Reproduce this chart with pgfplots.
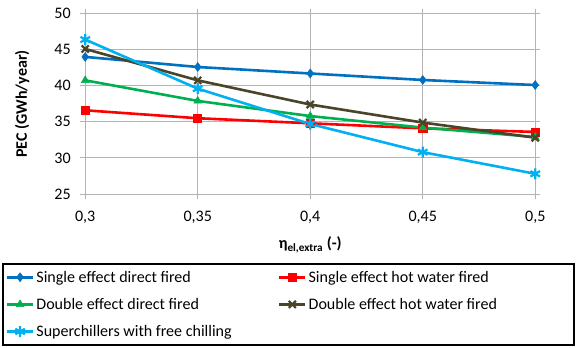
\documentclass[border=0pt]{standalone}
\usepackage{fontspec}
\setmainfont{Carlito}
\usepackage{pgfplots}
\pgfplotsset{compat=1.18}
\definecolor{cblue}{HTML}{0070C0}
\definecolor{cred}{HTML}{FF0000}
\definecolor{cgreen}{HTML}{00B050}
\definecolor{cbrown}{HTML}{4A452A}
\definecolor{ccyan}{HTML}{00B0F0}
\definecolor{gridc}{HTML}{B3B3B3}
\begin{document}
\begin{tikzpicture}
\begin{axis}[
  scale only axis,
  width=449bp, height=180bp,
  xmin=0.3, xmax=0.5, ymin=25, ymax=50,
  xtick={0.3,0.35,0.4,0.45,0.5},
  xticklabels={{0,3},{0,35},{0,4},{0,45},{0,5}},
  ytick={25,30,35,40,45,50},
  /pgf/number format/assume math mode=true,
  font=\fontsize{16bp}{19bp}\selectfont,
  tick label style={font=\fontsize{16bp}{19bp}\selectfont},
  xticklabel shift=9bp,
  yticklabel shift=6bp,
  grid=major,
  major grid style={gridc, line width=0.9bp},
  axis line style={gridc, line width=0.9bp},
  tick style={gridc, line width=0.9bp},
  tick align=outside,
  major tick length=5bp,
  xlabel={\textbf{η\textsubscript{el,extra} (-)}},
  ylabel={\textbf{PEC (GWh/year)}},
  xlabel style={at={(axis description cs:0.5,-0.283)}, anchor=center},
  ylabel style={at={(axis description cs:-0.14,0.5)}, anchor=center},
  legend columns=2,
  legend cell align=left,
  legend style={at={(axis description cs:-0.1849,-0.3833)}, anchor=north west,
    draw=black, line width=1.5bp, inner xsep=3bp, inner ysep=5bp,
    row sep=10.5bp, column sep=0bp,
    font=\fontsize{16bp}{19bp}\selectfont},
  legend image code/.code={
    \draw[mark repeat=2,mark phase=2] plot coordinates {(0bp,0bp)(13bp,0bp)(26bp,0bp)};
  },
  clip=false,
]
\addplot[cblue, line width=2.6bp, mark=diamond*, mark size=4.5bp, mark options={solid, fill=cblue, line width=0.5bp}]
  coordinates {(0.3,44.0)(0.35,42.6)(0.4,41.7)(0.45,40.8)(0.5,40.1)};
\addlegendentry{\makebox[239bp][l]{Single effect direct fired}}
\addplot[cred, line width=2.6bp, mark=square*, mark size=4bp, mark options={solid, fill=cred, line width=0.5bp}]
  coordinates {(0.3,36.6)(0.35,35.5)(0.4,34.8)(0.45,34.1)(0.5,33.6)};
\addlegendentry{\makebox[260bp][l]{Single effect hot water fired}}
\addplot[cgreen, line width=2.6bp, mark=triangle*, mark size=4.5bp, mark options={solid, fill=cgreen, line width=0.5bp}]
  coordinates {(0.3,40.75)(0.35,37.9)(0.4,35.8)(0.45,34.2)(0.5,32.9)};
\addlegendentry{\makebox[239bp][l]{Double effect direct fired}}
\addplot[cbrown, line width=2.6bp, mark=x, mark size=5bp, mark options={solid, line width=2.2bp}]
  coordinates {(0.3,45.1)(0.35,40.75)(0.4,37.4)(0.45,34.9)(0.5,32.8)};
\addlegendentry{\makebox[260bp][l]{Double effect hot water fired}}
\addplot[ccyan, line width=2.6bp, mark=asterisk, mark size=5.5bp, mark options={solid, line width=2.2bp}]
  coordinates {(0.3,46.4)(0.35,39.6)(0.4,34.7)(0.45,30.8)(0.5,27.8)};
\addlegendentry{\makebox[239bp][l]{Superchillers with free chilling}}
\end{axis}
\path ([shift={(-2bp,-2bp)}]current bounding box.south west) ([shift={(2bp,5bp)}]current bounding box.north east);
\end{tikzpicture}
\end{document}
